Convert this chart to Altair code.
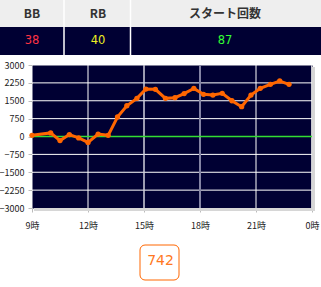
import json
import altair as alt
import pandas as pd

# ---- data ----
HEADERS = ["BB", "RB", "スタート回数"]
COUNTS = ["38", "40", "87"]
TOTAL = "742"

HOURS = [0, 1.0, 1.5, 2.0, 2.5, 3.0, 3.54, 4.08, 4.58, 5.08, 5.62, 6.1, 6.61,
         7.15, 7.66, 8.15, 8.67, 9.19, 9.69, 10.19, 10.71, 11.23, 11.73,
         12.23, 12.77, 13.27, 13.77]
VALUES = [50, 150, -170, 80, -60, -250, 100, 50, 820, 1290, 1600, 1990, 1980,
          1600, 1630, 1800, 2020, 1770, 1740, 1810, 1500, 1250, 1740,
          2020, 2190, 2330, 2190]

Y_TICKS = [-3000, -2250, -1500, -750, 0, 750, 1500, 2250, 3000]
GRID_Y = [-2250, -1500, -750, 750, 1500, 2250]
X_TICKS = [0, 3, 6, 9, 12, 15]
X_LABELS = ["9時", "12時", "15時", "18時", "21時", "0時"]

FONT = "Noto Sans CJK JP"
W, H = 280, 143
NAVY = "#000033"
ORANGE = "#ff6600"

df = pd.DataFrame({"h": HOURS, "v": VALUES})
one = pd.DataFrame({"a": [0]})
gy = pd.DataFrame({"g": GRID_Y})

xscale = alt.Scale(domain=[0, 15], nice=False)
yscale = alt.Scale(domain=[-3000, 3000], nice=False)

label_expr = json.dumps(X_LABELS, ensure_ascii=False) + "[round(datum.value/3)]"

xaxis = alt.Axis(values=X_TICKS, labelExpr=label_expr, grid=False, domain=False,
                 tickColor="#bbbbbb", tickSize=4, labelPadding=9, labelFontSize=9,
                 labelColor="#222222", labelFont=FONT, title=None, labelFlush=False,
                 labelOverlap=False)
yaxis = alt.Axis(values=Y_TICKS, format="d", domain=False, tickColor="#bbbbbb",
                 tickSize=4, labelPadding=4, labelFontSize=9, labelColor="#222222",
                 labelFont=FONT, title=None, grid=False, labelOverlap=False,
                 labelFlush=False)

line = alt.Chart(df).mark_line(color=ORANGE, strokeWidth=3,
                      point=alt.OverlayMarkDef(color=ORANGE, filled=True, size=28, opacity=1)).encode(
    x=alt.X("h:Q", scale=xscale, axis=xaxis),
    y=alt.Y("v:Q", scale=yscale, axis=yaxis),
)

hgrid = alt.Chart(gy).mark_rule(color="#ffffff", strokeWidth=1).encode(
    y=alt.Y("g:Q", scale=yscale, axis=yaxis), x=alt.value(0), x2=alt.value(W))

def vrule(hour, color, width=1.5):
    return alt.Chart(one).mark_rule(color=color, strokeWidth=width).encode(
        x=alt.XDatum(hour, scale=xscale, axis=xaxis), y=alt.value(0), y2=alt.value(H))

vrules = [vrule(3, "#ffffff", 1), vrule(6, "#d0d0dd", 1.5), vrule(9, "#8484a4", 2),
          vrule(12, "#ffffff", 1)]

zero = alt.Chart(one).mark_rule(color="#33dd33", strokeWidth=1.5).encode(
    y=alt.YDatum(0, scale=yscale, axis=yaxis), x=alt.value(0), x2=alt.value(W))

def rect(x, x2, y, y2, color, **kw):
    return alt.Chart(one).mark_rect(color=color, **kw).encode(
        x=alt.value(x), x2=alt.value(x2), y=alt.value(y), y2=alt.value(y2))

shadow = [rect(W, W + 3, 2, H + 3, "#d6d6d6"), rect(2, W + 3, H, H + 3, "#d6d6d6"),
          rect(W - 1, W, 0, H, "#c8c8d0")]

# table at top
table = [rect(-32, 289, -65, -38, "#eeeeee"), rect(-32, 289, -38, -10, NAVY)]
for xd in [32, 98.5]:
    table.append(alt.Chart(one).mark_rule(color="#ffffff", strokeWidth=1.5).encode(
        x=alt.value(xd), y=alt.value(-65), y2=alt.value(-10)))

col_x = [0, 66, 193]
val_colors = ["#ff3344", "#eeee22", "#33ff33"]
for i in range(3):
    table.append(alt.Chart(one).mark_text(text=HEADERS[i], font=FONT, fontSize=12,
                                          fontWeight="bold", color="#333333",
                                          baseline="middle", align="center").encode(
        x=alt.value(col_x[i]), y=alt.value(-51.5)))
    table.append(alt.Chart(one).mark_text(text=COUNTS[i], font="DejaVu Sans", fontSize=11.5,
                                          color=val_colors[i], baseline="middle",
                                          align="center").encode(
        x=alt.value(col_x[i]), y=alt.value(-24)))

# total box
box = [rect(108, 147, 180, 215, "#ffffff", stroke=ORANGE, strokeWidth=1, cornerRadius=5),
       alt.Chart(one).mark_text(text=TOTAL, font="DejaVu Sans", fontSize=14,
                                color="#ff7722", baseline="middle", align="center").encode(
           x=alt.value(128.5), y=alt.value(196))]

chart = alt.layer(*table, *shadow, hgrid, *vrules, zero, line, *box).properties(
    width=W, height=H,
    autosize=alt.AutoSizeParams(type="none"),
    padding={"left": 32, "top": 65, "right": 9, "bottom": 79},
    background="#ffffff",
).configure_view(fill=NAVY, stroke="transparent")

chart.save("out.html", embed_options={"renderer": "svg", "actions": False})
